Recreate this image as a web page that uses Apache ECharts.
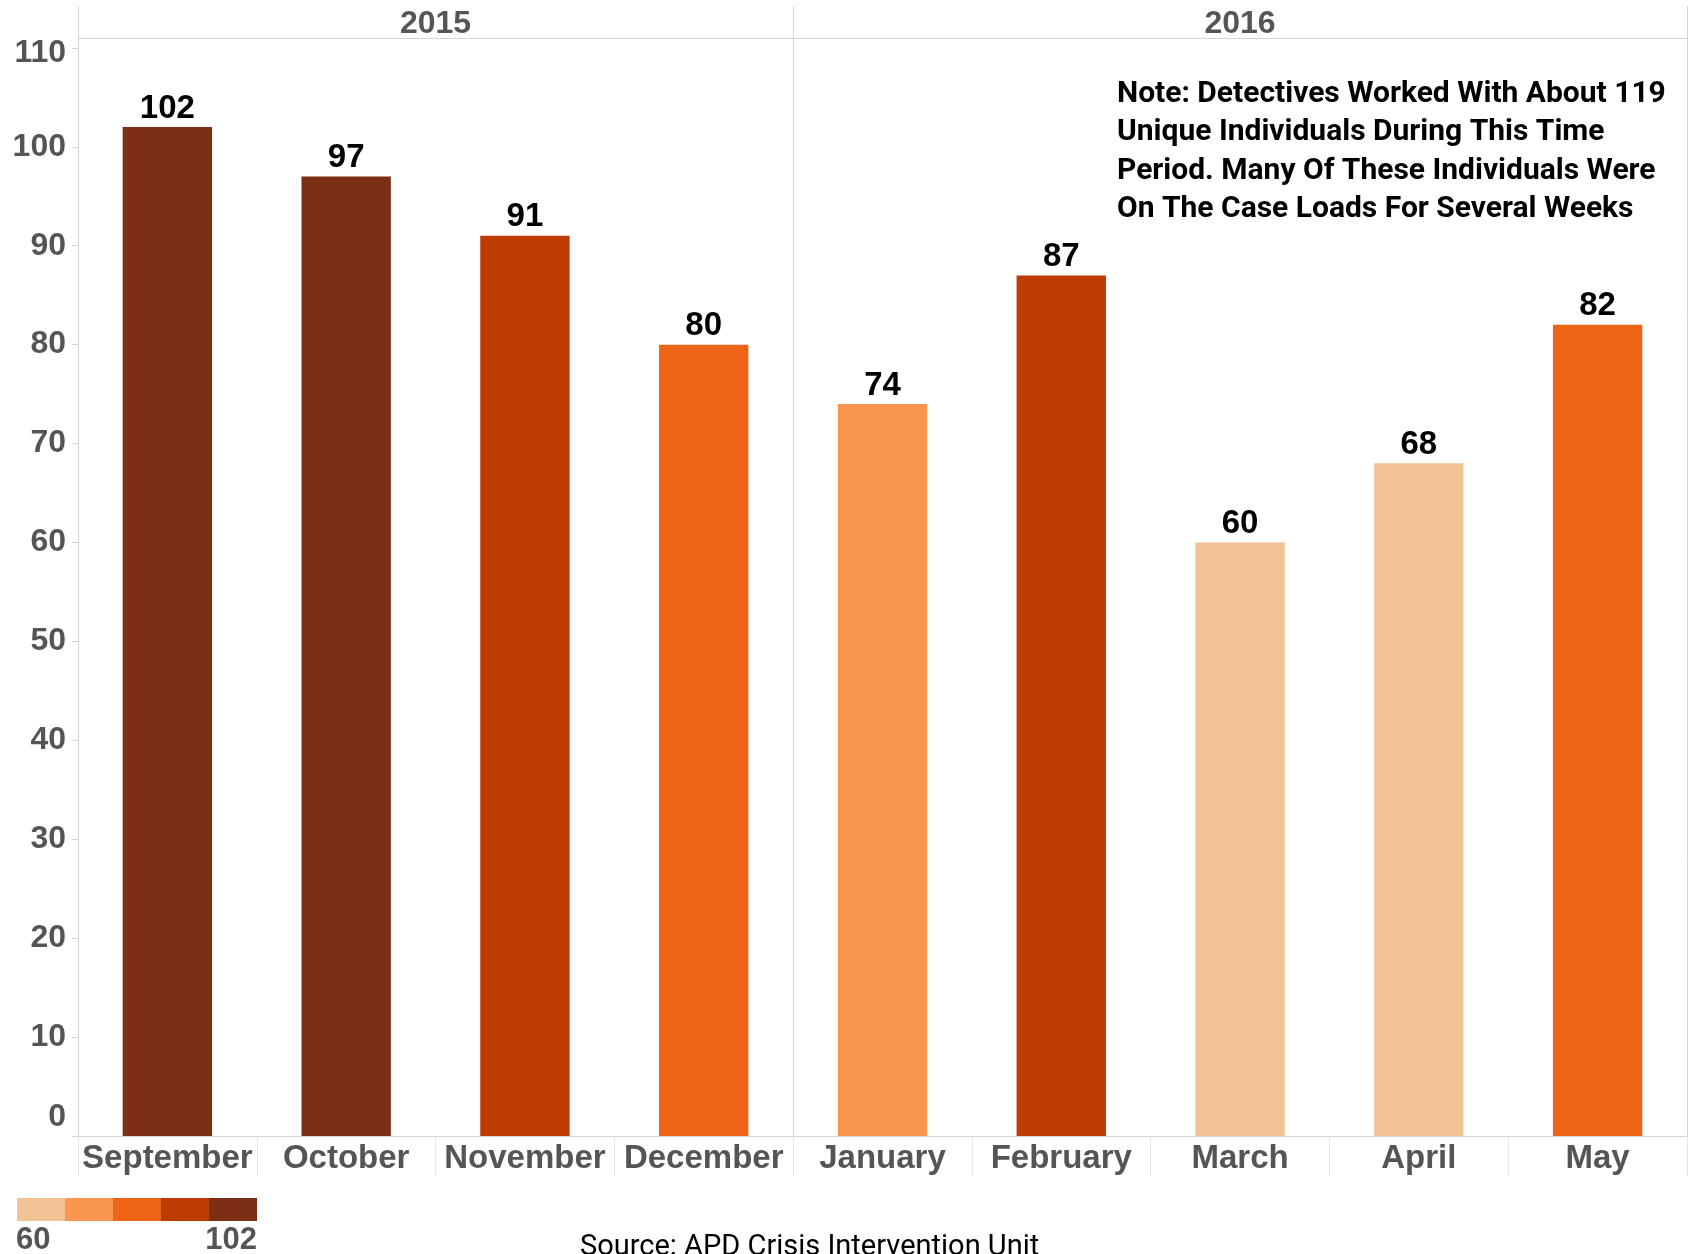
<!DOCTYPE html>
<html><head><meta charset="utf-8">
<script src="https://cdn.jsdelivr.net/npm/echarts@6/dist/echarts.min.js"></script>
<style>html,body{margin:0;padding:0;background:#fff}#c{width:1692px;height:1254px}</style>
</head><body><div id="c"></div>
<script>
const months = ['September','October','November','December','January','February','March','April','May'];
const cases = [102, 97, 91, 80, 74, 87, 60, 68, 82];
const years = ['2015', '2016'];
const monthsPerYear = [4, 5];
const yTicks = [0, 10, 20, 30, 40, 50, 60, 70, 80, 90, 100, 110];
const colorSteps = ['#F0C294', '#FA9550', '#EE6416', '#BE3C04', '#7C2F14'];
const noteLines = [
  'Note: Detectives Worked With About 119',
  'Unique Individuals During This Time',
  'Period. Many Of These Individuals Were',
  'On The Case Loads For Several Weeks'
];
const sourceText = 'Source: APD Crisis Intervention Unit';

const vMin = Math.min(...cases), vMax = Math.max(...cases);
const legendTicks = [String(vMin), String(vMax)];
const step = (vMax - vMin) / colorSteps.length;
const pieces = colorSteps.map((c, i) => {
  const p = { gte: vMin + i * step, color: c };
  if (i < colorSteps.length - 1) p.lt = vMin + (i + 1) * step; else p.lte = vMax;
  return p;
});
const yearStarts = [];
let acc = 0;
monthsPerYear.forEach(n => { yearStarts.push(acc); acc += n; });
const yearCentres = [];
acc = 0;
monthsPerYear.forEach(n => { yearCentres.push(2 * acc + n); acc += n; });
const yTop = yTicks[yTicks.length - 1];

const FONT = 'Liberation Sans';
const NOTEFONT = 'Roboto';
const GRAY = '#555';
const LINE = '#d4d4d4';

const chart = echarts.init(document.getElementById('c'), null, { renderer: 'canvas' });
chart.setOption({
  animation: false,
  backgroundColor: '#fff',
  grid: { left: 78, right: 5, top: 38, bottom: 118, containLabel: false },
  title: [
    {
      text: noteLines.join('\n'), left: 1112, top: 70, padding: 5,
      textStyle: { fontFamily: NOTEFONT, fontWeight: 'bold', fontSize: 30, lineHeight: 38.5, color: '#000' }
    },
    {
      text: sourceText, left: 575, top: 1228, padding: 5,
      textStyle: { fontFamily: NOTEFONT, fontWeight: 'normal', fontSize: 29, color: '#000' }
    }
  ],
  visualMap: {
    type: 'piecewise', seriesIndex: 0, orient: 'horizontal',
    left: 12, top: 1193, padding: 5,
    itemWidth: 48, itemHeight: 23, itemGap: 0, itemSymbol: 'rect',
    showLabel: false, selectedMode: false,
    pieces: pieces
  },
  graphic: [
    { type: 'text', left: 16, top: 1225, style: { text: legendTicks[0], font: 'bold 31px ' + FONT, fill: GRAY } },
    { type: 'text', right: 1692 - 257, top: 1225, style: { text: legendTicks[1], font: 'bold 31px ' + FONT, fill: GRAY, textAlign: 'right' } }
  ],
  xAxis: [
    {
      type: 'category', data: months, position: 'bottom', gridIndex: 0,
      axisLine: { show: true, lineStyle: { color: LINE, width: 1 } },
      axisTick: { show: true, length: 40, lineStyle: { color: '#e6e6e6' } },
      axisLabel: { interval: 0, fontFamily: FONT, fontWeight: 'bold', fontSize: 33, color: GRAY, margin: 6 }
    },
    {
      type: 'category', data: months, position: 'top', gridIndex: 0,
      axisLine: { show: true, lineStyle: { color: LINE, width: 1 } },
      axisTick: { show: true, length: 32, interval: (i) => yearStarts.includes(i), lineStyle: { color: LINE } },
      splitLine: { show: true, interval: (i) => yearStarts.includes(i), lineStyle: { color: LINE, width: 1 } },
      axisLabel: { show: false }
    },
    {
      type: 'value', position: 'top', gridIndex: 0, min: 0, max: 2 * months.length, interval: 1,
      axisLine: { show: false }, axisTick: { show: false }, splitLine: { show: false },
      axisLabel: {
        margin: -2, fontFamily: FONT, fontWeight: 'bold', fontSize: 32, color: GRAY,
        formatter: (v) => { const k = yearCentres.indexOf(v); return k >= 0 ? years[k] : ''; }
      }
    }
  ],
  yAxis: {
    type: 'value', min: 0, max: 111, interval: 10,
    axisLine: { show: true, lineStyle: { color: LINE } },
    axisTick: { show: true, length: 6, customValues: yTicks, lineStyle: { color: LINE } },
    splitLine: { show: false },
    axisLabel: {
      customValues: yTicks, margin: 12, fontFamily: FONT, fontWeight: 'bold', fontSize: 32, color: GRAY,
      formatter: (v) => v === 0 ? '{z|0}' : (v === yTop ? '{t|' + v + '}' : String(v)),
      rich: {
        z: { fontFamily: FONT, fontWeight: 'bold', fontSize: 32, color: GRAY, padding: [0, 0, 38, 0] },
        t: { fontFamily: FONT, fontWeight: 'bold', fontSize: 32, color: GRAY, padding: [10, 0, 0, 0] }
      }
    }
  },
  series: [{
    type: 'bar', xAxisIndex: 0, data: cases, barWidth: '50%',
    label: { show: true, position: 'top', distance: 2, fontFamily: FONT, fontWeight: 'bold', fontSize: 33, color: '#000' }
  }]
});
</script></body></html>
